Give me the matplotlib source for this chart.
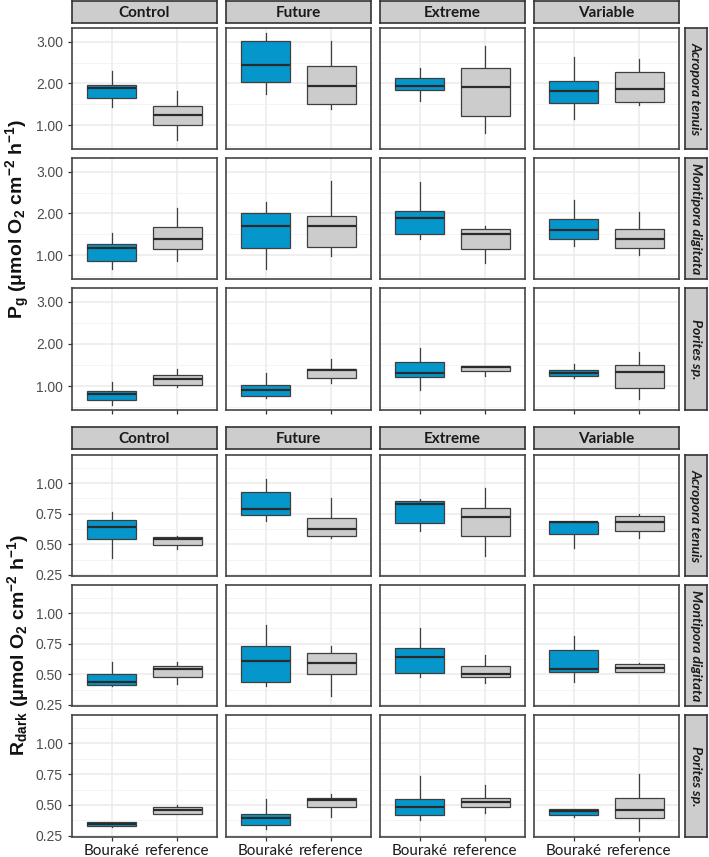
import matplotlib
matplotlib.use("Agg")
import matplotlib.pyplot as plt
from matplotlib.ticker import FixedLocator

plt.rcParams['font.family'] = ['Liberation Sans', 'DejaVu Sans']
plt.rcParams['mathtext.fontset'] = 'custom'
plt.rcParams['mathtext.rm'] = 'Liberation Sans:bold'
plt.rcParams['mathtext.it'] = 'Liberation Sans:bold'
plt.rcParams['mathtext.bf'] = 'Liberation Sans:bold'

treatments = ["Control", "Future", "Extreme", "Variable"]
species = ["Acropora tenuis", "Montipora digitata", "Porites sp."]
sites = ["Bouraké", "reference"]

# each box: [whisker low, Q1, median, Q3, whisker high], one per treatment
pg_acropora_bourake = [[1.43, 1.66, 1.88, 1.96, 2.30], [1.75, 2.03, 2.44, 3.01, 3.20],
                       [1.57, 1.84, 1.95, 2.13, 2.36], [1.14, 1.54, 1.83, 2.06, 2.64]]
pg_acropora_reference = [[0.65, 1.00, 1.24, 1.46, 1.83], [1.38, 1.50, 1.95, 2.43, 3.03],
                         [0.82, 1.21, 1.92, 2.37, 2.91], [1.48, 1.56, 1.87, 2.28, 2.58]]
pg_montipora_bourake = [[0.67, 0.86, 1.17, 1.28, 1.54], [0.67, 1.18, 1.71, 2.02, 2.27],
                        [1.39, 1.52, 1.90, 2.06, 2.76], [1.23, 1.38, 1.61, 1.87, 2.32]]
pg_montipora_reference = [[0.86, 1.16, 1.38, 1.67, 2.13], [0.98, 1.20, 1.71, 1.95, 2.78],
                          [0.81, 1.14, 1.51, 1.63, 1.69], [1.00, 1.18, 1.39, 1.63, 2.04]]
pg_porites_bourake = [[0.56, 0.66, 0.81, 0.88, 1.10], [0.72, 0.76, 0.91, 1.03, 1.30],
                      [0.91, 1.21, 1.31, 1.56, 1.90], [1.19, 1.24, 1.31, 1.39, 1.52]]
pg_porites_reference = [[0.98, 1.03, 1.17, 1.26, 1.41], [1.07, 1.20, 1.38, 1.40, 1.65],
                        [1.25, 1.35, 1.46, 1.48, 1.48], [0.68, 0.96, 1.33, 1.51, 1.81]]

rd_acropora_bourake = [[0.39, 0.54, 0.64, 0.70, 0.76], [0.69, 0.74, 0.785, 0.93, 1.03],
                       [0.61, 0.67, 0.83, 0.85, 0.87], [0.47, 0.585, 0.68, 0.68, 0.68]]
rd_acropora_reference = [[0.465, 0.49, 0.54, 0.56, 0.57], [0.555, 0.57, 0.625, 0.715, 0.88],
                         [0.405, 0.565, 0.72, 0.80, 0.96], [0.55, 0.61, 0.685, 0.73, 0.75]]
rd_montipora_bourake = [[0.40, 0.41, 0.44, 0.50, 0.60], [0.40, 0.435, 0.61, 0.735, 0.905],
                        [0.48, 0.51, 0.645, 0.715, 0.88], [0.435, 0.52, 0.545, 0.695, 0.81]]
rd_montipora_reference = [[0.42, 0.48, 0.54, 0.57, 0.60], [0.32, 0.505, 0.59, 0.67, 0.73],
                          [0.43, 0.48, 0.505, 0.57, 0.66], [0.515, 0.52, 0.55, 0.58, 0.59]]
rd_porites_bourake = [[0.325, 0.33, 0.345, 0.36, 0.36], [0.305, 0.335, 0.395, 0.425, 0.55],
                      [0.375, 0.42, 0.485, 0.55, 0.735], [0.40, 0.42, 0.45, 0.465, 0.47]]
rd_porites_reference = [[0.425, 0.43, 0.46, 0.48, 0.50], [0.405, 0.48, 0.54, 0.56, 0.59],
                        [0.435, 0.48, 0.52, 0.56, 0.66], [0.29, 0.395, 0.46, 0.56, 0.75]]

pg_ticks = [1.0, 2.0, 3.0]
pg_minor = [0.5, 1.5, 2.5]
pg_ticklabels = ["1.00", "2.00", "3.00"]
rd_ticks = [0.25, 0.50, 0.75, 1.00]
rd_minor = [0.375, 0.625, 0.875, 1.125]
rd_ticklabels = ["0.25", "0.50", "0.75", "1.00"]

pg_data = [(pg_acropora_bourake, pg_acropora_reference),
           (pg_montipora_bourake, pg_montipora_reference),
           (pg_porites_bourake, pg_porites_reference)]
rd_data = [(rd_acropora_bourake, rd_acropora_reference),
           (rd_montipora_bourake, rd_montipora_reference),
           (rd_porites_bourake, rd_porites_reference)]

W, H = 709, 857
fig = plt.figure(figsize=(W / 100, H / 100), dpi=100)

BLUE = '#0597CB'
GREY = '#CCCCCC'
EDGE = '#3F3F3F'
STRIP = '#CDCDCD'
PANEL_EDGE = '#444444'


def px_axes(x0, y0, x1, y1, **kw):
    return fig.add_axes([x0 / W, 1 - y1 / H, (x1 - x0) / W, (y1 - y0) / H], **kw)


col_x = [(72, 217), (226, 371), (380, 525), (534, 679)]
strip_font = ['Lato', 'DejaVu Sans']


def strip_top(x0, x1, y0, y1, label):
    a = px_axes(x0, y0, x1, y1)
    a.set_facecolor(STRIP)
    a.set_xticks([]); a.set_yticks([])
    for s in a.spines.values():
        s.set_color('#333333'); s.set_linewidth(1.2)
    a.text(0.5, 0.45, label, ha='center', va='center', fontsize=11, fontweight='bold',
           family=strip_font, color='#1A1A1A', transform=a.transAxes)


def strip_right(x0, x1, y0, y1, label):
    a = px_axes(x0, y0, x1, y1)
    a.set_facecolor(STRIP)
    a.set_xticks([]); a.set_yticks([])
    for s in a.spines.values():
        s.set_color('#333333'); s.set_linewidth(1.2)
    a.text(0.5, 0.5, label, ha='center', va='center', fontsize=10, fontweight='bold',
           style='italic', rotation=-90, family=strip_font, color='#1A1A1A',
           transform=a.transAxes)


def draw_grid(data, row_y, strip_y, ylim, ticks, minor, ticklabels, show_xlabels):
    for j, t in enumerate(treatments):
        strip_top(col_x[j][0], col_x[j][1], strip_y[0], strip_y[1], t)
    for i, sp in enumerate(species):
        y0, y1 = row_y[i]
        strip_right(685, 707, y0, y1, sp)
        for j, t in enumerate(treatments):
            ax = px_axes(col_x[j][0], y0, col_x[j][1], y1)
            b_vals = data[i][0][j]
            r_vals = data[i][1][j]
            stats = []
            for v, lab in ((b_vals, sites[0]), (r_vals, sites[1])):
                stats.append(dict(whislo=v[0], q1=v[1], med=v[2], q3=v[3], whishi=v[4],
                                  fliers=[], label=lab))
            bp = ax.bxp(stats, positions=[1, 2], widths=0.75, patch_artist=True,
                        showcaps=False, showfliers=False,
                        boxprops=dict(edgecolor=EDGE, linewidth=0.9),
                        whiskerprops=dict(color=EDGE, linewidth=0.9),
                        medianprops=dict(color='#2B2B2B', linewidth=1.6))
            for patch, c in zip(bp['boxes'], (BLUE, GREY)):
                patch.set_facecolor(c)
            for k in range(2):
                bp['boxes'][k].set_zorder(3)
                bp['medians'][k].set_zorder(4)
            ax.set_xlim(0.4, 2.6)
            ax.set_ylim(*ylim)
            ax.yaxis.set_major_locator(FixedLocator(ticks))
            ax.yaxis.set_minor_locator(FixedLocator(minor))
            ax.xaxis.set_minor_locator(FixedLocator([]))
            ax.grid(True, which='major', color='#EBEBEB', linewidth=1.1, zorder=0)
            ax.grid(True, which='minor', axis='y', color='#F2F2F2', linewidth=0.6, zorder=0)
            ax.set_axisbelow(True)
            for s in ax.spines.values():
                s.set_color(PANEL_EDGE); s.set_linewidth(1.2)
            ax.tick_params(which='minor', length=0)
            ax.tick_params(which='major', length=3, color='#333333', width=0.9)
            if j == 0:
                ax.set_yticklabels(ticklabels, fontsize=10, color='#4D4D4D')
            else:
                ax.tick_params(axis='y', length=0, labelleft=False)
            if i == len(species) - 1:
                if show_xlabels:
                    ax.set_xticks([1, 2])
                    ax.set_xticklabels(sites, fontsize=11, color='#1A1A1A', family=strip_font)
                    ax.tick_params(axis='x', pad=2)
                else:
                    ax.set_xticks([1, 2])
                    ax.set_xticklabels(['', ''])
            else:
                ax.set_xticks([1, 2])
                ax.tick_params(axis='x', length=0, labelbottom=False)


draw_grid(pg_data, [(28, 149), (158, 279), (288, 410)], (1, 23),
          (0.43, 3.33), pg_ticks, pg_minor, pg_ticklabels, False)
draw_grid(rd_data, [(455, 576), (585, 706), (715, 837)], (427, 449),
          (0.24, 1.23), rd_ticks, rd_minor, rd_ticklabels, True)

fig.text(18 / W, 1 - 219 / H, r'P$_{g}$ (μmol O$_{2}$ cm$^{-2}$ h$^{-1}$)', rotation=90,
         ha='center', va='center', fontsize=14, fontweight='bold', color='#111111')
fig.text(18 / W, 1 - 645 / H, r'R$_{dark}$ (μmol O$_{2}$ cm$^{-2}$ h$^{-1}$)', rotation=90,
         ha='center', va='center', fontsize=14, fontweight='bold', color='#111111')

fig.savefig('out.png', dpi=100, facecolor='white')
